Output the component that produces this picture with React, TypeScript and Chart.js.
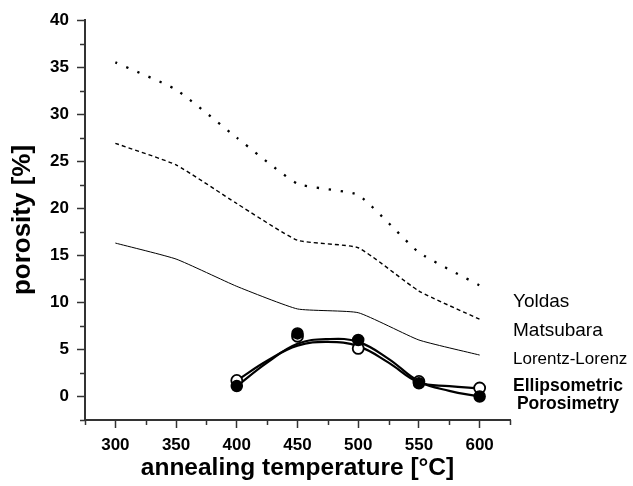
import React, { useEffect, useRef } from "react";
import { Chart, registerables } from "chart.js";

Chart.register(...registerables);

const temperatures = [300, 350, 400, 450, 500, 550, 600];
const yoldas = [35.5, 32.6, 27.5, 22.6, 21.4, 15.3, 11.8];
const matsubara = [26.9, 24.6, 20.5, 16.6, 15.8, 11.2, 8.2];
const lorentzLorenz = [16.3, 14.6, 11.7, 9.3, 8.9, 6.0, 4.4];

const epTemperatures = [400, 450, 500, 550, 600];
const epFilled = [1.1, 6.7, 6.0, 1.4, 0.0];
const epOpen = [1.7, 6.4, 5.1, 1.6, 0.9];

const fitTemperatures = [400, 425, 450, 475, 500, 525, 550, 575, 600];
const fitFilled = [1.1, 3.6, 5.6, 6.1, 5.8, 4.0, 1.6, 0.6, 0.0];
const fitOpen = [1.7, 3.8, 5.4, 5.8, 5.35, 3.6, 1.5, 1.1, 0.85];

const xTickLabels = [300, 350, 400, 450, 500, 550, 600];
const yTickLabels = [0, 5, 10, 15, 20, 25, 30, 35, 40];

const xTitle = "annealing temperature [°C]";
const yTitle = "porosity [%]";
const seriesNames = ["Yoldas", "Matsubara", "Lorentz-Lorenz"];
const epNameLines = ["Ellipsometric", "Porosimetry"];

const FONT = "'Liberation Sans', Arial, sans-serif";
const AXIS_COLOR = "#333333";

const pts = (xs: number[], ys: number[]) => xs.map((x, i) => ({ x, y: ys[i] }));

const minorTicksPlugin = {
  id: "minorTicks",
  afterDraw(chart: any) {
    const ctx = chart.ctx;
    const xs = chart.scales.x;
    const ys = chart.scales.y;
    const area = chart.chartArea;
    ctx.save();
    ctx.strokeStyle = AXIS_COLOR;
    ctx.lineWidth = 1.5;
    for (let v = 275; v <= 625; v += 25) {
      if (v % 50 === 0) continue;
      const px = Math.round(xs.getPixelForValue(v)) + 0.5;
      ctx.beginPath();
      ctx.moveTo(px, area.bottom);
      ctx.lineTo(px, area.bottom + 5);
      ctx.stroke();
    }
    for (let v = -2.5; v <= 40; v += 2.5) {
      if (Math.abs(v % 5) < 1e-6) continue;
      const py = Math.round(ys.getPixelForValue(v)) + 0.5;
      ctx.beginPath();
      ctx.moveTo(area.left, py);
      ctx.lineTo(area.left - 5, py);
      ctx.stroke();
    }
    ctx.restore();
  },
};

const seriesLabelPlugin = {
  id: "seriesLabels",
  afterDraw(chart: any) {
    const ctx = chart.ctx;
    const area = chart.chartArea;
    const lx = area.right + 3;
    ctx.save();
    ctx.fillStyle = "#000";
    ctx.textAlign = "left";
    ctx.textBaseline = "middle";
    ctx.font = `19px ${FONT}`;
    ctx.fillText(seriesNames[0], lx, 302);
    ctx.fillText(seriesNames[1], lx, 331);
    ctx.font = `17px ${FONT}`;
    ctx.fillText(seriesNames[2], lx, 359);
    ctx.font = `bold 17.5px ${FONT}`;
    ctx.textAlign = "center";
    ctx.fillText(epNameLines[0], lx + 55, 386);
    ctx.fillText(epNameLines[1], lx + 55, 404);
    ctx.restore();
  },
};

export default function App() {
  const ref = useRef<HTMLCanvasElement | null>(null);

  useEffect(() => {
    document.body.style.margin = "0";
    const canvas = ref.current;
    if (!canvas) return;
    const chart = new Chart(canvas, {
      type: "line",
      data: {
        datasets: [
          {
            label: "EP filled",
            data: pts(epTemperatures, epFilled),
            showLine: false,
            pointRadius: 5.5,
            pointBackgroundColor: "#000",
            pointBorderColor: "#000",
            pointBorderWidth: 1.5,
            order: 0,
          },
          {
            label: "EP open",
            data: pts(epTemperatures, epOpen),
            showLine: false,
            pointRadius: 5.5,
            pointBackgroundColor: "#fff",
            pointBorderColor: "#000",
            pointBorderWidth: 1.8,
            order: 1,
          },
          {
            label: "fit filled",
            data: pts(fitTemperatures, fitFilled),
            borderColor: "#000",
            borderWidth: 2.2,
            pointRadius: 0,
            tension: 0.4,
            order: 2,
          },
          {
            label: "fit open",
            data: pts(fitTemperatures, fitOpen),
            borderColor: "#000",
            borderWidth: 2.2,
            pointRadius: 0,
            tension: 0.4,
            order: 2,
          },
          {
            label: "Yoldas",
            data: pts(temperatures, yoldas),
            borderColor: "#000",
            borderWidth: 2.3,
            borderDash: [2.3, 9.7],
            pointRadius: 0,
            tension: 0.15,
            order: 3,
          },
          {
            label: "Matsubara",
            data: pts(temperatures, matsubara),
            borderColor: "#000",
            borderWidth: 1.4,
            borderDash: [4, 3],
            pointRadius: 0,
            tension: 0.15,
            order: 3,
          },
          {
            label: "Lorentz-Lorenz",
            data: pts(temperatures, lorentzLorenz),
            borderColor: "#000",
            borderWidth: 1,
            pointRadius: 0,
            tension: 0.15,
            order: 3,
          },
        ],
      },
      options: {
        responsive: false,
        animation: false,
        events: [],
        layout: { padding: { left: 0, top: 20, right: 123, bottom: 0 } },
        plugins: {
          legend: { display: false },
          tooltip: { enabled: false },
        },
        scales: {
          x: {
            type: "linear",
            min: 275,
            max: 625,
            afterFit: (s: any) => {
              s.height = 66;
            },
            border: { display: true, color: AXIS_COLOR, width: 2 },
            grid: {
              drawOnChartArea: false,
              drawTicks: true,
              tickLength: 8,
              tickWidth: 1.5,
              tickColor: (c: any) =>
                xTickLabels.includes(c.tick?.value) ? AXIS_COLOR : "rgba(0,0,0,0)",
            },
            ticks: {
              stepSize: 25,
              autoSkip: false,
              maxRotation: 0,
              padding: 7,
              color: "#000",
              font: { family: FONT, size: 17, weight: "bold" },
              callback: (v: any) => (xTickLabels.includes(Number(v)) ? String(v) : ""),
            },
            title: {
              display: true,
              text: xTitle,
              color: "#000",
              font: { family: FONT, size: 24.5, weight: "bold" },
              padding: { top: 0, bottom: 3 },
            },
          },
          y: {
            type: "linear",
            min: -2.5,
            max: 40,
            afterFit: (s: any) => {
              s.width = 85;
            },
            border: { display: true, color: AXIS_COLOR, width: 2 },
            grid: {
              drawOnChartArea: false,
              drawTicks: true,
              tickLength: 8,
              tickWidth: 1.5,
              tickColor: (c: any) =>
                yTickLabels.includes(c.tick?.value) ? AXIS_COLOR : "rgba(0,0,0,0)",
            },
            ticks: {
              stepSize: 2.5,
              autoSkip: false,
              padding: 8,
              color: "#000",
              font: { family: FONT, size: 17, weight: "bold" },
              callback: (v: any) => (yTickLabels.includes(Number(v)) ? String(v) : ""),
            },
            title: {
              display: true,
              text: yTitle,
              color: "#000",
              font: { family: FONT, size: 26, weight: "bold" },
              padding: { top: 7, bottom: 0 },
            },
          },
        },
      },
      plugins: [minorTicksPlugin, seriesLabelPlugin],
    });
    return () => chart.destroy();
  }, []);

  return (
    <div style={{ width: 633, height: 486, background: "#fff" }}>
      <canvas ref={ref} width={633} height={486} style={{ display: "block" }} />
    </div>
  );
}
